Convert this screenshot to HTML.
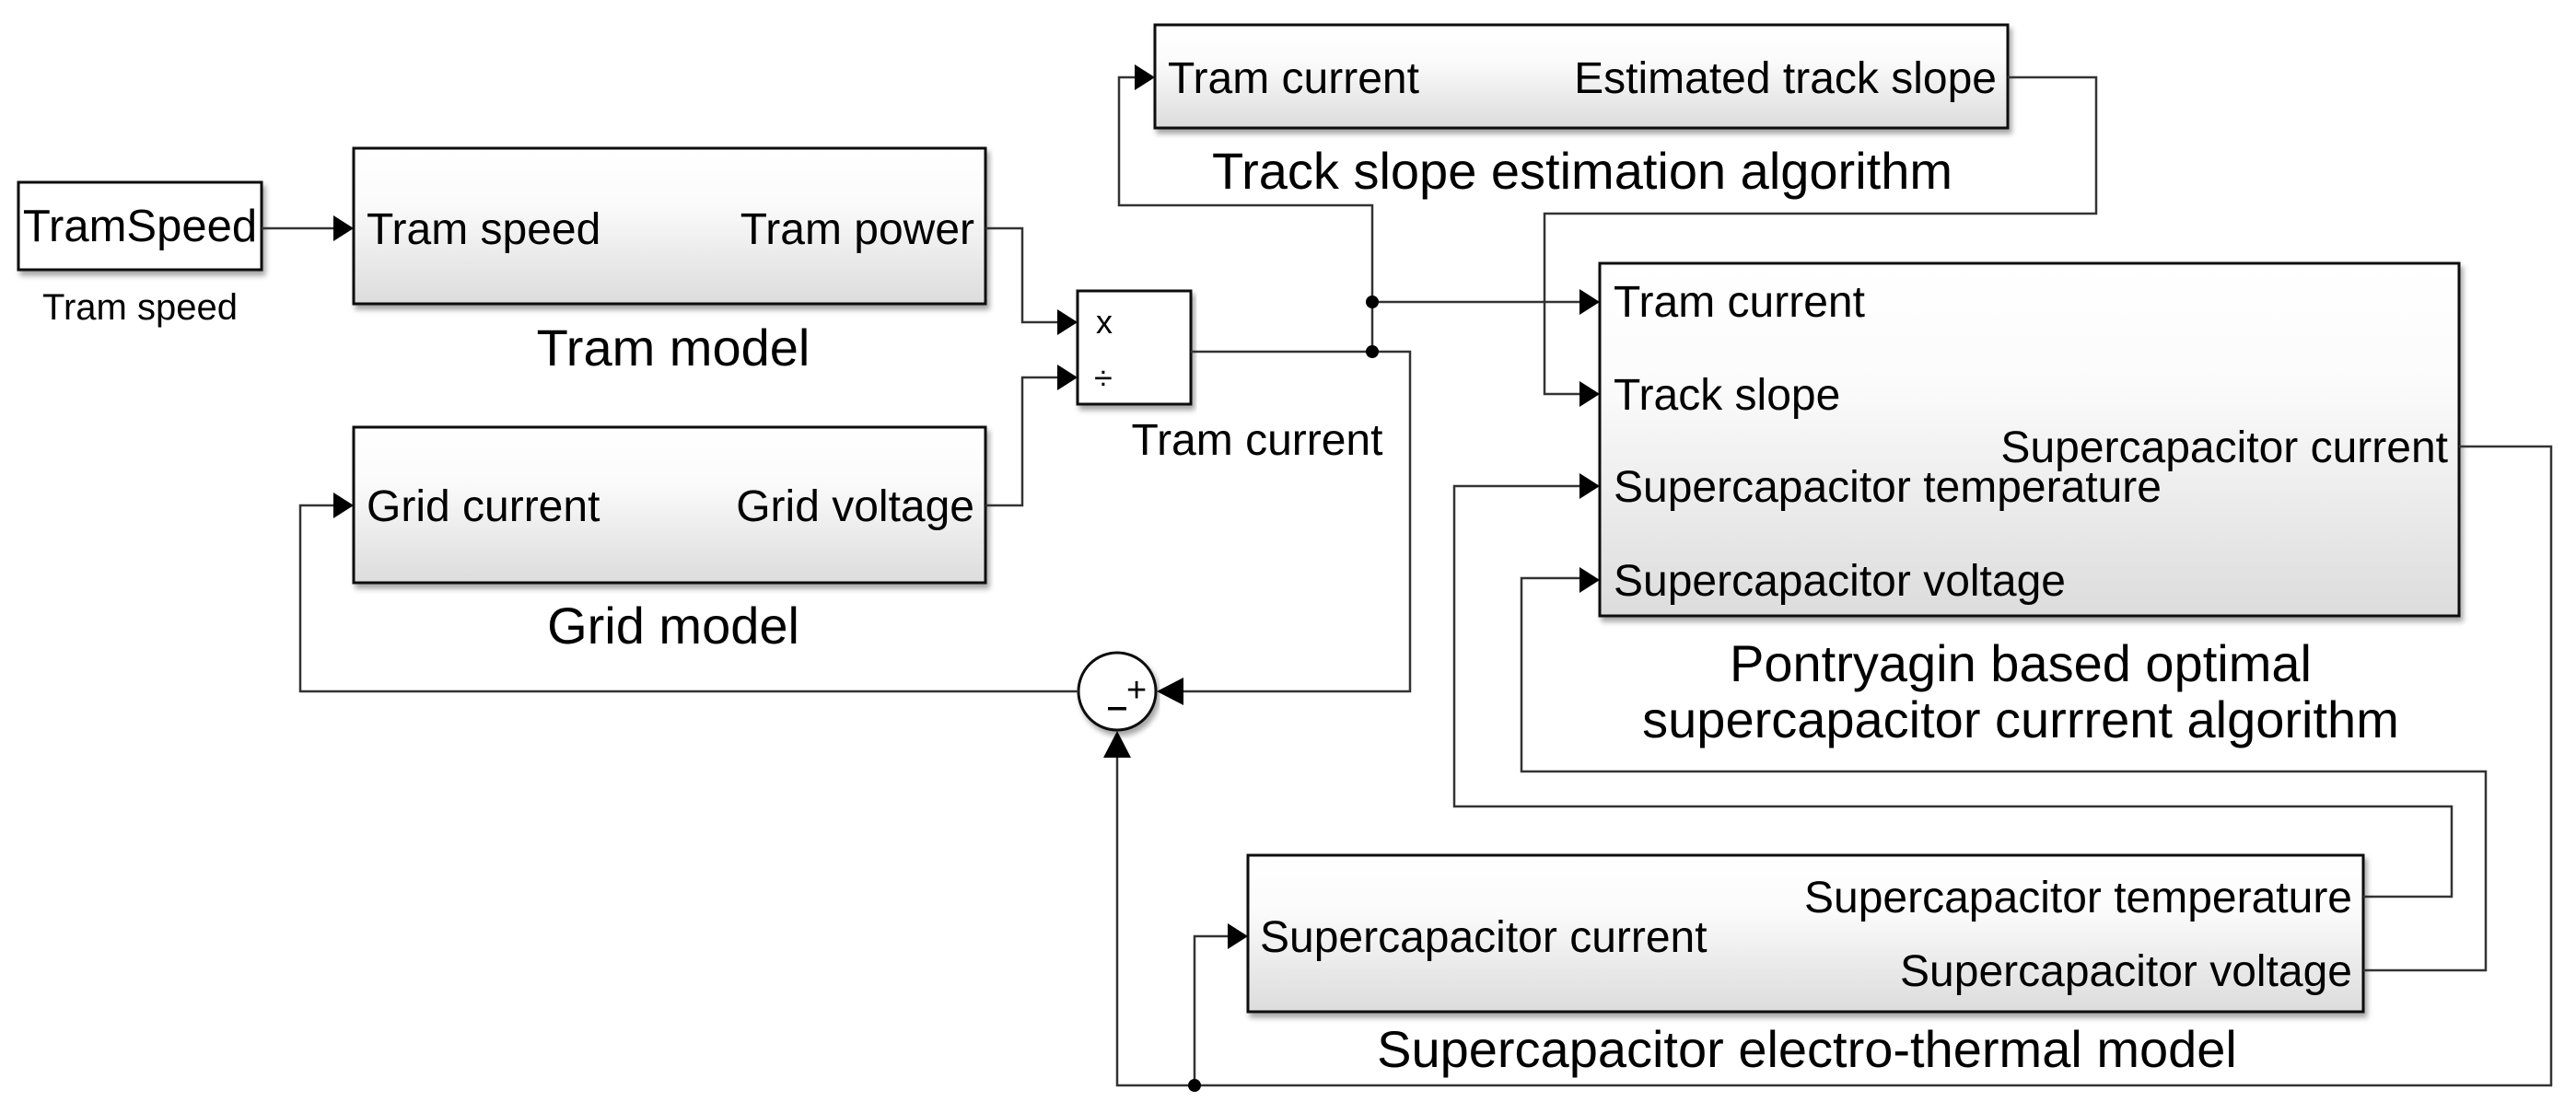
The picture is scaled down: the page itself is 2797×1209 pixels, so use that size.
<!DOCTYPE html>
<html><head><meta charset="utf-8"><style>
html,body{margin:0;padding:0;background:#fff;}
svg{display:block;}
text{font-family:"Liberation Sans",Arial,sans-serif;fill:#000;}
</style></head><body>
<svg width="2797" height="1209" viewBox="0 0 2797 1209" xmlns="http://www.w3.org/2000/svg">
<defs>
<linearGradient id="g" x1="0" y1="0" x2="0" y2="1">
<stop offset="0" stop-color="#ffffff"/><stop offset="0.35" stop-color="#fbfbfb"/><stop offset="1" stop-color="#dcdcdc"/>
</linearGradient>
<filter id="sh" x="-5%" y="-5%" width="110%" height="120%">
<feDropShadow dx="3" dy="5" stdDeviation="3" flood-color="#000" flood-opacity="0.35"/>
</filter>
</defs>

<rect x="20" y="198" width="264" height="95" fill="#fff" stroke="#111" stroke-width="3" filter="url(#sh)"/>
<rect x="384" y="161" width="686" height="169" fill="url(#g)" stroke="#111" stroke-width="3" filter="url(#sh)"/>
<rect x="384" y="464" width="686" height="169" fill="url(#g)" stroke="#111" stroke-width="3" filter="url(#sh)"/>
<rect x="1170" y="316" width="123" height="123" fill="#fff" stroke="#111" stroke-width="3" filter="url(#sh)"/>
<rect x="1254" y="27" width="926" height="112" fill="url(#g)" stroke="#111" stroke-width="3" filter="url(#sh)"/>
<rect x="1737" y="286" width="933" height="383" fill="url(#g)" stroke="#111" stroke-width="3" filter="url(#sh)"/>
<rect x="1355" y="929" width="1211" height="170" fill="url(#g)" stroke="#111" stroke-width="3" filter="url(#sh)"/>
<circle cx="1213" cy="751" r="42" fill="#fff" stroke="#111" stroke-width="3" filter="url(#sh)"/>

<g fill="none" stroke="#333" stroke-width="2.5">
<path d="M284 248 H362"/>
<path d="M1070 248 H1110 V350 H1148"/>
<path d="M1070 549 H1110 V410 H1148"/>
<path d="M1293 382 H1531 V751 H1285"/>
<path d="M1490 382 V328 H1715"/>
<path d="M1490 328 V223 H1215 V84 H1232"/>
<path d="M2180 84 H2276 V232 H1677 V428 H1715"/>
<path d="M1171 751 H326 V549 H362"/>
<path d="M2670 485 H2770 V1179 H1213 V822"/>
<path d="M1297 1179 V1017 H1333"/>
<path d="M2566 974 H2662 V876 H1579 V528 H1715"/>
<path d="M2566 1054 H2699 V838 H1652 V628 H1715"/>
</g>
<g fill="#000">
<polygon points="384,248 362,234 362,262"/>
<polygon points="384,549 362,535 362,563"/>
<polygon points="1170,350 1148,336 1148,364"/>
<polygon points="1170,410 1148,396 1148,424"/>
<polygon points="1254,84 1232,70 1232,98"/>
<polygon points="1737,328 1715,314 1715,342"/>
<polygon points="1737,428 1715,414 1715,442"/>
<polygon points="1737,528 1715,514 1715,542"/>
<polygon points="1737,630 1715,616 1715,644"/>
<polygon points="1355,1017 1333,1003 1333,1031"/>
<polygon points="1256,751 1285,736 1285,766"/>
<polygon points="1213,794 1198,823 1228,823"/>
<circle cx="1490" cy="382" r="7"/>
<circle cx="1490" cy="328" r="7"/>
<circle cx="1297" cy="1179" r="7"/>
<rect x="1203" y="768" width="20" height="3.5"/>
</g>

<text x="152" y="262" font-size="49" text-anchor="middle">TramSpeed</text>
<text x="152" y="347" font-size="40" text-anchor="middle">Tram speed</text>

<text x="398" y="265" font-size="48">Tram speed</text>
<text x="1058" y="265" font-size="48" text-anchor="end">Tram power</text>
<text x="731" y="397" font-size="56" text-anchor="middle">Tram model</text>

<text x="398" y="566" font-size="48">Grid current</text>
<text x="1058" y="566" font-size="48" text-anchor="end">Grid voltage</text>
<text x="731" y="699" font-size="56" text-anchor="middle">Grid model</text>

<text x="1190" y="362" font-size="36">x</text>
<text x="1188" y="423" font-size="36">÷</text>
<text x="1365" y="494" font-size="48" text-anchor="middle">Tram current</text>

<text x="1268" y="101" font-size="48">Tram current</text>
<text x="2168" y="101" font-size="48" text-anchor="end">Estimated track slope</text>
<text x="1718" y="205" font-size="56" text-anchor="middle">Track slope estimation algorithm</text>

<text x="1752" y="344" font-size="48">Tram current</text>
<text x="1752" y="445" font-size="48">Track slope</text>
<text x="1752" y="545" font-size="48">Supercapacitor temperature</text>
<text x="1752" y="647" font-size="48">Supercapacitor voltage</text>
<text x="2658" y="502" font-size="48" text-anchor="end">Supercapacitor current</text>
<text x="2194" y="740" font-size="56" text-anchor="middle">Pontryagin based optimal</text>
<text x="2194" y="801" font-size="56" text-anchor="middle">supercapacitor currrent algorithm</text>

<text x="1368" y="1034" font-size="48">Supercapacitor current</text>
<text x="2554" y="991" font-size="48" text-anchor="end">Supercapacitor temperature</text>
<text x="2554" y="1071" font-size="48" text-anchor="end">Supercapacitor voltage</text>
<text x="1962" y="1159" font-size="56" text-anchor="middle">Supercapacitor electro-thermal model</text>

<text x="1223" y="762" font-size="38">+</text>
</svg>
</body></html>
